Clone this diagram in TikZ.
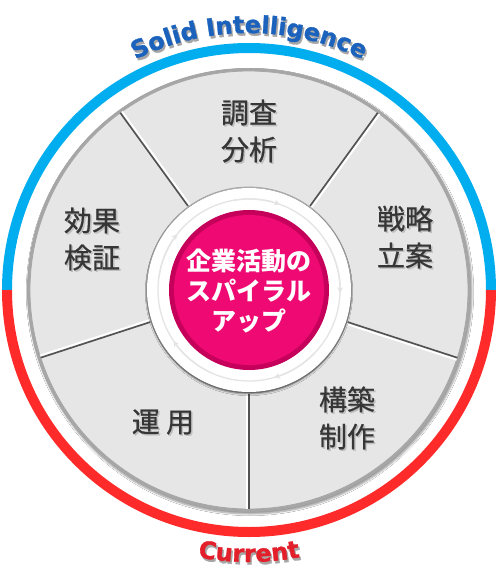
\documentclass[tikz,border=0pt]{standalone}
\usepackage{fontspec}
\usetikzlibrary{decorations.text,shadows.blur,arrows.meta}
\newfontfamily\cjk{Noto Sans CJK JP}
\newfontfamily\cjklab{Noto Sans CJK JP}[FakeBold=0.6]
\newfontfamily\arcfont{DejaVu Sans}[BoldFeatures={FakeBold=1.2}]
\definecolor{ringblue}{HTML}{00AEEF}
\definecolor{ringred}{HTML}{FF2A2A}
\definecolor{segfill}{HTML}{E6E6E6}
\definecolor{segrim}{HTML}{A6A6A6}
\definecolor{labeltext}{HTML}{363636}
\definecolor{sblue}{HTML}{1A62BC}
\definecolor{cred}{HTML}{E21F2A}
\definecolor{pinkc}{HTML}{EE0A72}
\definecolor{pinkdark}{HTML}{C4005A}
\definecolor{arrowring}{HTML}{E4E4E4}
\tikzset{
  seglabel/.style={font=\cjklab\fontsize{28}{37}\selectfont, text=labeltext, align=center, inner sep=0pt},
  seglabelshadow/.style={seglabel, text=black!25},
  centerlabel/.style={font=\cjk\bfseries\fontsize{25}{30}\selectfont, text=white, align=center, inner sep=0pt},
  ringarc/.style={line width=10pt},
  divdark/.style={draw=black!68, line width=1.6pt},
  divlight/.style={draw=white, line width=1.8pt},
  sector/.style={fill=segfill, draw=segrim, line width=0.8pt},
  arrowarc/.style={draw=arrowring, line width=1.3pt, -{Stealth[length=6pt,width=6pt]}},
}
\begin{document}
\begin{tikzpicture}[x=1pt,y=1pt]
\useasboundingbox (-249,-292) rectangle (249,290);
\fill[white] (-249,-292) rectangle (249,290);
% outer ring
\draw[ringarc, ringblue] (0:242) arc[start angle=0, end angle=180, radius=242];
\draw[ringarc, ringred] (180:242) arc[start angle=180, end angle=360, radius=242];
% gray wheel
\fill[segrim, blur shadow={shadow xshift=1pt, shadow yshift=-2pt, shadow blur steps=6, shadow opacity=40}] (0,0) circle (222);
\foreach \a in {54,126,198,270,342}{
  \path[sector] (\a:219) arc[start angle=\a, end angle=\a+72, radius=219]
     -- (\a+72:103) arc[start angle=\a+72, end angle=\a, radius=103] -- cycle;
}
% dividers
\foreach \a in {54,126,198,270,342}{
  \begin{scope}[rotate=\a]
    \draw[divlight] (104,-2.2) -- (219,-2.2);
    \draw[divdark] (104,0) -- (219,0);
  \end{scope}
}
% center white disk
\fill[white, blur shadow={shadow xshift=0pt, shadow yshift=-2pt, shadow blur steps=6, shadow opacity=45}] (0,0) circle (102);
\draw[draw=arrowring, line width=1.3pt] (0,0) circle (91);
\foreach \a in {0,72,144,216,288}{
  \draw[arrowarc] (\a+100:91) arc[start angle=\a+100, end angle=\a+70, radius=91];
}
% pink button
\shade[inner color=pinkc, outer color=pinkdark] (0,0) circle (80);
\fill[pinkc] (0,0) circle (75);
\node[centerlabel] (core) at (0,-1) {企業活動の\\スパイラル\\アップ};
% segment labels with shadows
\node[seglabelshadow] at (1.5,157.5) {調査\\分析};
\node[seglabel] (survey) at (0,159) {調査\\分析};
\node[seglabelshadow] at (157.5,51.5) {戦略\\立案};
\node[seglabel] (strategy) at (156,53) {戦略\\立案};
\node[seglabelshadow] at (99.5,-129.5) {構築\\制作};
\node[seglabel] (build) at (98,-128) {構築\\制作};
\node[seglabelshadow] at (-84.5,-133.5) {運 用};
\node[seglabel] (operate) at (-86,-132) {運 用};
\node[seglabelshadow] at (-155.5,49.5) {効果\\検証};
\node[seglabel] (verify) at (-157,51) {効果\\検証};
% arc titles
\path[decorate, decoration={text along path, text align=center,
  text={|\arcfont\bfseries\fontsize{24}{24}\selectfont\color{black!35}|Solid Intelligence}}]
  (121:257) ++(1.5,-2.5) arc[start angle=121, end angle=59, radius=257];
\path[decorate, decoration={text along path, text align=center,
  text={|\arcfont\bfseries\fontsize{24}{24}\selectfont\color{sblue}|Solid Intelligence}}]
  (121:257) arc[start angle=121, end angle=59, radius=257];
\path[decorate, decoration={text along path, text align=center,
  text={|\arcfont\bfseries\fontsize{24}{24}\selectfont\color{black!35}|Current}}]
  (-105:272) ++(1.5,-2.5) arc[start angle=-105, end angle=-75, radius=272];
\path[decorate, decoration={text along path, text align=center,
  text={|\arcfont\bfseries\fontsize{24}{24}\selectfont\color{cred}|Current}}]
  (-105:272) arc[start angle=-105, end angle=-75, radius=272];
\end{tikzpicture}
\end{document}
